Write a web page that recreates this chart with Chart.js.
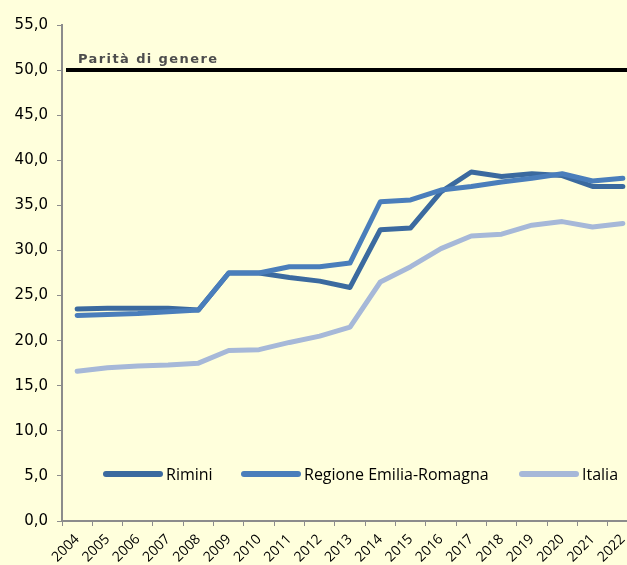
<!DOCTYPE html>
<html>
<head>
<meta charset="utf-8">
<script src="https://cdn.jsdelivr.net/npm/chart.js@4/dist/chart.umd.min.js"></script>
<style>
  html, body { margin: 0; padding: 0; background: #ffffdc; overflow: hidden; }
  #wrap { width: 627px; height: 565px; overflow: hidden; }
</style>
</head>
<body>
<div id="wrap"><canvas id="chart" width="660" height="565"></canvas></div>
<script>
const years = ['2004', '2005', '2006', '2007', '2008', '2009', '2010', '2011', '2012', '2013',
               '2014', '2015', '2016', '2017', '2018', '2019', '2020', '2021', '2022'];
const rimini  = [23.5, 23.6, 23.6, 23.6, 23.4, 27.5, 27.5, 27.0, 26.6, 25.9, 32.3, 32.5, 36.5, 38.7, 38.2, 38.5, 38.3, 37.1, 37.1];
const regione = [22.8, 22.9, 23.0, 23.2, 23.4, 27.5, 27.5, 28.2, 28.2, 28.6, 35.4, 35.6, 36.7, 37.1, 37.6, 38.0, 38.5, 37.7, 38.0];
const italia  = [16.6, 17.0, 17.2, 17.3, 17.5, 18.9, 19.0, 19.8, 20.5, 21.5, 26.5, 28.2, 30.2, 31.6, 31.8, 32.8, 33.2, 32.6, 33.0];
const parity = 50;
const parityLabel = 'Parità di genere';

const colors = { rimini: '#3b6a9f', regione: '#4a7ebb', italia: '#a6b8d8' };

// horizontal line at 50 with its caption
const parityPlugin = {
    id: 'parity',
    afterDatasetsDraw(chart) {
        const ctx = chart.ctx;
        const y = chart.scales.y.getPixelForValue(parity);
        ctx.save();
        ctx.strokeStyle = '#000';
        ctx.lineWidth = 4;
        ctx.beginPath();
        ctx.moveTo(chart.chartArea.left + 4, y);
        ctx.lineTo(chart.chartArea.right, y);
        ctx.stroke();
        ctx.fillStyle = '#4d4d4d';
        ctx.font = 'bold 13px "DejaVu Sans", sans-serif';
        ctx.letterSpacing = '1.4px';
        ctx.textBaseline = 'alphabetic';
        ctx.fillText(parityLabel, chart.chartArea.left + 16, y - 7);
        ctx.restore();
    }
};

// legend drawn inside the plot, near the bottom
const legendPlugin = {
    id: 'innerLegend',
    afterDraw(chart) {
        const ctx = chart.ctx;
        const y = chart.scales.y.getPixelForValue(5.2);
        const items = [
            { x: 106, ds: chart.data.datasets[0] },
            { x: 244, ds: chart.data.datasets[1] },
            { x: 522, ds: chart.data.datasets[2] }
        ];
        ctx.save();
        ctx.font = '16px "Liberation Sans Narrow", "Open Sans", sans-serif';
        ctx.textBaseline = 'middle';
        items.forEach(it => {
            ctx.strokeStyle = it.ds.borderColor;
            ctx.lineWidth = 6;
            ctx.lineCap = 'round';
            ctx.beginPath();
            ctx.moveTo(it.x, y);
            ctx.lineTo(it.x + 54, y);
            ctx.stroke();
            ctx.fillStyle = '#000';
            ctx.fillText(it.ds.label, it.x + 60, y + 1);
        });
        ctx.restore();
    }
};

const lineStyle = {
    borderWidth: 5,
    pointRadius: 0,
    tension: 0,
    borderJoinStyle: 'round',
    borderCapStyle: 'round',
    fill: false
};

new Chart(document.getElementById('chart'), {
    type: 'line',
    data: {
        labels: years,
        datasets: [
            { label: 'Rimini', data: rimini, borderColor: colors.rimini, order: 2, ...lineStyle },
            { label: 'Regione Emilia-Romagna', data: regione, borderColor: colors.regione, order: 1, ...lineStyle },
            { label: 'Italia', data: italia, borderColor: colors.italia, order: 3, ...lineStyle }
        ]
    },
    options: {
        responsive: false,
        animation: false,
        layout: { padding: { top: 25, left: 0, right: 22, bottom: 0 } },
        plugins: { legend: { display: false }, tooltip: { enabled: false } },
        scales: {
            x: {
                offset: true,
                grid: { offset: true, drawOnChartArea: false, color: '#8c8c8c', tickLength: 5 },
                border: { color: '#8c8c8c', width: 2 },
                ticks: {
                    color: '#000',
                    font: { family: '"Open Sans", sans-serif', size: 14 },
                    minRotation: 45, maxRotation: 45, padding: 5, autoSkip: false
                },
                afterFit(axis) { axis.height = 44; }
            },
            y: {
                min: 0, max: 55,
                grid: { drawOnChartArea: false, color: '#8c8c8c', tickLength: 5 },
                border: { color: '#8c8c8c', width: 2 },
                ticks: {
                    stepSize: 5,
                    color: '#000',
                    padding: 9,
                    font: { family: '"DejaVu Sans", sans-serif', size: 15 },
                    callback: v => v.toFixed(1).replace('.', ',')
                },
                afterFit(axis) { axis.width = 62; }
            }
        }
    },
    plugins: [parityPlugin, legendPlugin]
});
</script>
</body>
</html>
